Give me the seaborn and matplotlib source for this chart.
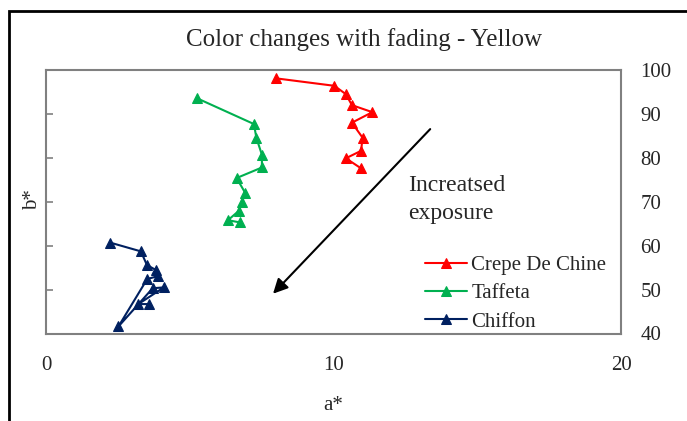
import matplotlib
matplotlib.use("Agg")
import matplotlib.pyplot as plt
import seaborn as sns
import pandas as pd
from matplotlib.patches import Rectangle

# ---- data ----
crepe_a = [8.00, 10.03, 10.43, 10.64, 11.35, 10.64, 11.01, 10.96, 10.43, 10.96]
crepe_b = [98.1, 96.4, 94.5, 92.0, 90.4, 88.0, 84.6, 81.6, 79.9, 77.6]
taffeta_a = [5.24, 7.23, 7.32, 7.51, 7.51, 6.63, 6.93, 6.82, 6.72, 6.33, 6.74]
taffeta_b = [93.6, 87.7, 84.5, 80.7, 77.8, 75.4, 72.0, 69.9, 68.0, 65.8, 65.3]
chiffon_a = [2.23, 3.30, 3.51, 3.81, 3.91, 3.52, 2.52, 3.71, 4.10, 3.21, 3.59]
chiffon_b = [60.7, 58.7, 55.6, 54.5, 53.1, 52.4, 41.6, 50.3, 50.5, 46.7, 46.7]
series_names = ["Crepe De Chine", "Taffeta", "Chiffon"]
colors = ["#FF0000", "#00B050", "#002060"]
x_ticks = [0, 10, 20]
y_ticks = [40, 50, 60, 70, 80, 90, 100]

sns.set_theme(style="white")
plt.rcParams['font.family'] = ['Liberation Serif', 'DejaVu Serif']

fig = plt.figure(figsize=(6.87, 4.21), dpi=100)
ax = fig.add_axes([46/687, 1-333.5/421, (621-46)/687, (333.5-70)/421])

datasets = [(crepe_a, crepe_b), (taffeta_a, taffeta_b), (chiffon_a, chiffon_b)]
for (xa, yb), name, c in zip(datasets, series_names, colors):
    df = pd.DataFrame({"a": xa, "b": yb})
    sns.lineplot(data=df, x="a", y="b", sort=False, estimator=None, ax=ax,
                 color=c, marker="^", markersize=7, markeredgecolor=c,
                 linewidth=1.5, label=name)

ax.set_xlim(0, 20)
ax.set_ylim(40, 100)
ax.set_xticks(x_ticks)
ax.set_xticklabels([str(t) for t in x_ticks], fontsize=15)
ax.set_yticks(y_ticks)
ax.set_yticklabels([])
ax.tick_params(axis='x', direction='out', length=5, width=1.2, color='#808080', pad=11)
ax.tick_params(axis='y', direction='in', length=5, width=1.2, color='#808080', left=True)
for s in ax.spines.values():
    s.set_color('#808080')
    s.set_linewidth(1.5)
ax.set_xlabel("")
ax.set_ylabel("")

ax2 = ax.twinx()
ax2.set_ylim(40, 100)
ax2.set_yticks(y_ticks)
ax2.set_yticklabels([str(t) for t in y_ticks], fontsize=15)
ax2.tick_params(axis='y', length=0, pad=14)
for s in ax2.spines.values():
    s.set_visible(False)

fig.text(364/687, 1-40/421, "Color changes with fading - Yellow", fontsize=18,
         ha='center', va='center')
fig.text(333/687, 1-405/421, "a*", fontsize=15, ha='center', va='center')
fig.text(33/687, 1-200/421, "b*", fontsize=15, ha='center', va='center', rotation=90)

ax.annotate('', xy=(7.83, 48.6), xytext=(13.43, 87.0),
            arrowprops=dict(arrowstyle='-|>', color='black', lw=1.5, mutation_scale=22))
ax.text(12.6, 70.5, "Increatsed\nexposure", fontsize=17, ha='left', va='center',
        linespacing=1.4)

leg = ax.legend(loc='center left', bbox_to_anchor=(415/687, 1-293.5/421),
                bbox_transform=fig.transFigure, frameon=False, fontsize=15,
                handlelength=2.0, handletextpad=0.2, labelspacing=0.42,
                borderpad=0)

fig.patches.append(Rectangle((9/687, -0.1), 1.2, 1-11/421+0.1, transform=fig.transFigure,
                             fill=False, edgecolor='black', linewidth=2))

fig.savefig("out.png", dpi=100)
